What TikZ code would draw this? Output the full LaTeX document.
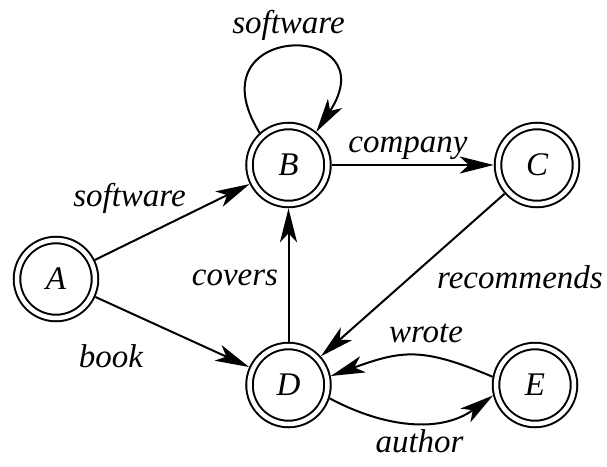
\documentclass[tikz,border=0pt]{standalone}
\usepackage{fontspec}
\setmainfont{Liberation Serif}[ItalicFont={Liberation Serif Italic}]
\newfontfamily\lblfont{Liberation Serif Italic}
\usetikzlibrary{arrows.meta}
\begin{document}
\begin{tikzpicture}[x=1pt,y=-1pt,
  state/.style={circle, draw, line width=2pt, double, double distance=4.5pt,
    minimum size=78pt, inner sep=0pt, outer sep=4.3pt,
    font=\lblfont\fontsize{33}{36}\selectfont},
  lbl/.style={anchor=base, inner sep=0pt, font=\lblfont\fontsize{33}{36}\selectfont},
  edge/.style={line width=2pt, -{Stealth[length=34pt, width=17pt, inset=9pt]}}]
\useasboundingbox (0,0) rectangle (607,466);
\node[state] (A) at (56,279) {A};
\node[state] (B) at (288.5,165) {B};
\node[state] (C) at (537,165) {C};
\node[state] (D) at (288.5,385) {D};
\node[state] (E) at (535,385) {E};
\draw[edge] (A) -- (B);
\draw[edge] (A) -- (D);
\draw[edge] (B) -- (C);
\draw[edge] (C) -- (D);
\draw[edge] (D) -- (B);
\draw[edge] (B.132) .. controls (190,20) and (390,20) .. (B.50);
\draw[edge] (E.169) to[out=157, in=20, looseness=1.2] (D.12);
\draw[edge] (D.-18) to[out=-28, in=-144] (E.194);
\node[lbl] (l1) at (129.5,206) {software};
\node[lbl] (l2) at (111,367) {book};
\node[lbl] (l3) at (235,285) {covers};
\node[lbl] (l4) at (520,288) {recommends};
\node[lbl] (l5) at (419.5,452) {author};
\node[lbl] (l6) at (288.5,33) {software};
\node[lbl] (l7) at (408,152) {company};
\node[lbl] (l8) at (426,342) {wrote};
\end{tikzpicture}
\end{document}
